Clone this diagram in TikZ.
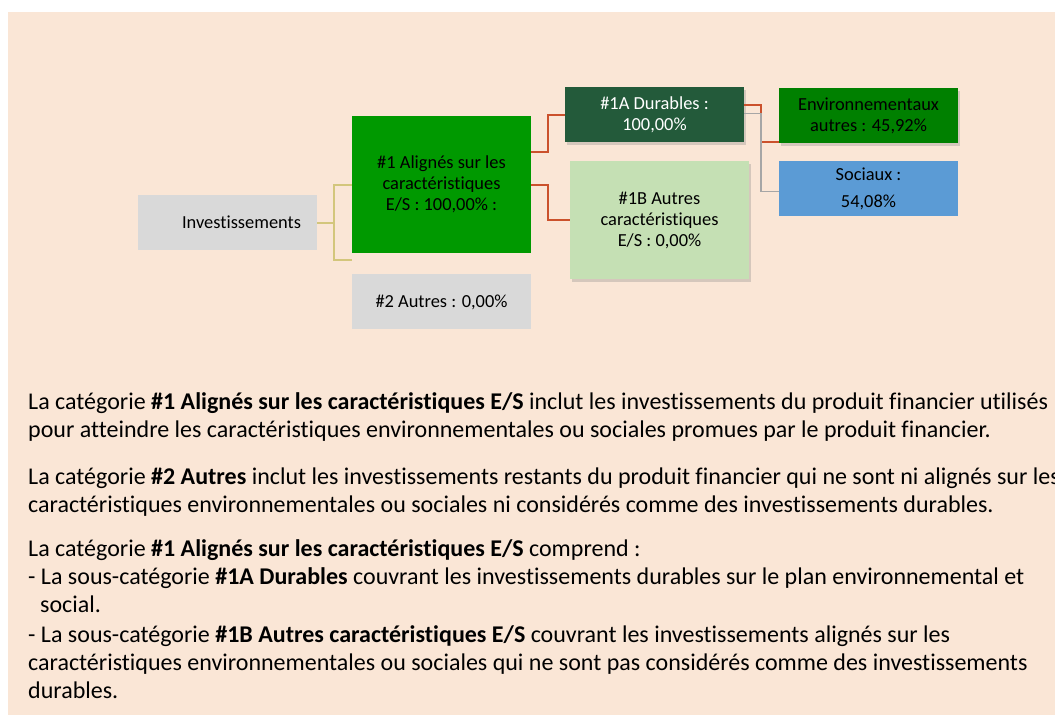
\documentclass[tikz,border=0pt]{standalone}
\usepackage{fontspec}
\setmainfont{Carlito}[Ligatures=NoCommon]
\usetikzlibrary{positioning,shadows}
\definecolor{peach}{HTML}{FAE6D6}
\definecolor{boxgray}{HTML}{D9D9D9}
\definecolor{alignedgreen}{HTML}{009900}
\definecolor{durgreen}{HTML}{235A3A}
\definecolor{autgreen}{HTML}{C5E0B4}
\definecolor{envgreen}{HTML}{008000}
\definecolor{socblue}{HTML}{5B9BD5}
\definecolor{lineyel}{HTML}{D3C67C}
\definecolor{linered}{HTML}{CB512C}
\definecolor{linegray}{HTML}{A6A6A6}

\begin{document}
\begin{tikzpicture}[
x=1pt, y=-1pt,
box/.style={minimum width=179pt, minimum height=55pt, inner sep=0pt, align=center, font=\fontsize{18.4}{21}\selectfont},
boxshadow/.style={drop shadow={shadow xshift=2pt, shadow yshift=-3pt, opacity=0.3}},
yline/.style={draw=lineyel, line width=2pt},
rline/.style={draw=linered, line width=2pt},
gline/.style={draw=linegray, line width=1.6pt},
para/.style={anchor=north west, inner sep=0pt, align=left, font=\fontsize{24}{28}\selectfont}
]
\useasboundingbox (0,0) rectangle (1055,716);
\fill[peach] (8,12) rectangle (1055,715);

% tree
\node[box, fill=boxgray, text width=147pt, align=right] (inv) at (227.5,222.5) {Investissements};
\node[box, fill=alignedgreen, minimum height=137pt] (al1) at (441.5,184.5) {\#1 Alignés sur les\\caractéristiques\\E/S : 100,00\% :};
\node[box, fill=boxgray, below=21pt of al1] (oth) {\#2 Autres : 0,00\%};
\node[box, fill=durgreen, text=white, boxshadow] (dur) at (654.5,114.5) {\#1A Durables :\\100,00\%};
\node[box, fill=autgreen, minimum height=118pt, boxshadow] (aut) at (659.5,220) {\#1B Autres\\caractéristiques\\E/S : 0,00\%};
\node[box, fill=envgreen, boxshadow] (env) at (868.5,115.5) {Environnementaux\\autres : 45,92\%};
\node[box, fill=socblue, below=18pt of env, font=\fontsize{18.4}{27}\selectfont] (soc) {Sociaux :\\54,08\%};
\coordinate (othin) at (352,260);

\draw[yline] (inv.east) -| ([xshift=-18pt]al1.west) -- (al1.west);
\draw[yline] (inv.east) -| ([xshift=-18pt]othin) -- (othin);
\draw[rline] ([yshift=32.5pt]al1.east) -| ([xshift=-17pt]dur.west) -- (dur.west);
\draw[rline] (al1.east) -| ([xshift=-22pt]aut.west) -- (aut.west);
\draw[rline] ([yshift=10pt]dur.east) -| ([xshift=-18pt,yshift=1pt]env.south west) -- ([yshift=1pt]env.south west);
\draw[gline] ([yshift=1pt]dur.east) -| ([xshift=-18pt,yshift=-2.5pt]soc.west) -- ([yshift=-2.5pt]soc.west);

% legend text
\node[para] (para1) at (28,392.5) {La catégorie \textbf{\#1 Alignés sur les caractéristiques E/S} inclut les investissements du produit financier utilisés\\pour atteindre les caractéristiques environnementales ou sociales promues par le produit financier.};
\node[para] (para2) at (28,467.5) {La catégorie \textbf{\#2 Autres} inclut les investissements restants du produit financier qui ne sont ni alignés sur les\\caractéristiques environnementales ou sociales ni considérés comme des investissements durables.};
\node[para] (para3) at (28,539.5) {La catégorie \textbf{\#1 Alignés sur les caractéristiques E/S} comprend :\\- La sous-catégorie \textbf{\#1A Durables} couvrant les investissements durables sur le plan environnemental et\\\hspace*{12pt}social.\\[2pt]- La sous-catégorie \textbf{\#1B Autres caractéristiques E/S} couvrant les investissements alignés sur les\\caractéristiques environnementales ou sociales qui ne sont pas considérés comme des investissements\\durables.};
\end{tikzpicture}
\end{document}
